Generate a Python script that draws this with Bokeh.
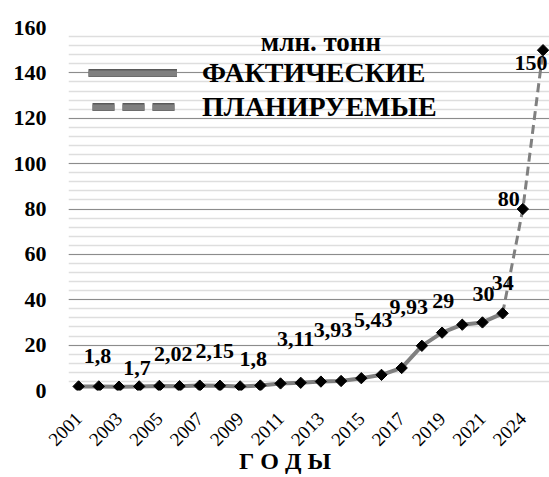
import math
from bokeh.plotting import figure
from bokeh.models import (ColumnDataSource, FixedTicker, Legend, LegendItem,
                          Label, Range1d)
from bokeh.core.properties import value
from bokeh.embed import file_html
from bokeh.resources import INLINE

# ---------------- data ----------------
years = ["2001", "2002", "2003", "2004", "2005", "2006", "2007", "2008",
         "2009", "2010", "2011", "2012", "2013", "2014", "2015", "2016",
         "2017", "2018", "2019", "2020", "2021", "2022", "2024", "2030"]
actual = [1.8, 1.8, 1.7, 1.8, 2.02, 1.9, 2.15, 2.1, 1.8, 2.2, 3.11, 3.4,
          3.93, 4.2, 5.43, 6.9, 9.93, 19.7, 25.5, 29, 30, 34]
planned_years = ["2022", "2024", "2030"]
planned = [34, 80, 150]
label_years = ["2001", "2003", "2005", "2007", "2009", "2011", "2013",
               "2015", "2017", "2020", "2021", "2022", "2024", "2030"]
label_values = [1.8, 1.7, 2.02, 2.15, 1.8, 3.11, 3.93, 5.43, 9.93, 29, 30,
                34, 80, 150]
tick_years = ["2001", "2003", "2005", "2007", "2009", "2011", "2013",
              "2015", "2017", "2019", "2021", "2024"]
y_major = [0, 20, 40, 60, 80, 100, 120, 140, 160]
y_minor = list(range(0, 161, 4))

# label placement (screen px offsets, style only)
label_dx = [19, 18, 14, 15, 13, 15, 12, 12, 7, -19, 1, 0, -14, -12]
label_dy = [-30, -19, -32, -35, -27, -44, -52, -58, -61, -24, -28, -30, -10, 13]

FONT = "Liberation Serif"
idx = {y: i for i, y in enumerate(years)}

act_src = ColumnDataSource(dict(x=[idx[y] for y in years[:len(actual)]], y=actual))
plan_src = ColumnDataSource(dict(x=[idx[y] for y in planned_years], y=planned))
mk_src = ColumnDataSource(dict(x=[idx[y] for y in years[:len(actual)]] + [idx[y] for y in planned_years[1:]],
                               y=actual + planned[1:]))
lab_src = ColumnDataSource(dict(
    x=[idx[y] for y in label_years], y=label_values,
    t=[str(v).replace(".", ",") for v in label_values],
    dx=label_dx, dy=label_dy))

p = figure(width=549, height=477, output_backend="svg", toolbar_location=None,
           x_range=Range1d(-0.5, 23.32), y_range=Range1d(0, 160),
           min_border_left=68, min_border_right=0, min_border_top=27,
           min_border_bottom=87)
p.outline_line_color = None
p.background_fill_color = "white"

# grid
p.xgrid.visible = False
p.yaxis.ticker = FixedTicker(ticks=y_major, minor_ticks=y_minor)
p.ygrid.grid_line_color = "#8c8c8c"
p.ygrid.grid_line_width = 1
p.ygrid.minor_grid_line_color = "#dedede"
p.ygrid.minor_grid_line_width = 1.5

# axes
p.yaxis.axis_line_color = None
p.yaxis.major_tick_line_color = None
p.yaxis.minor_tick_line_color = None
p.yaxis.major_label_standoff = 16
p.yaxis.major_label_text_font = FONT
p.yaxis.major_label_text_font_style = "bold"
p.yaxis.major_label_text_font_size = "22px"
p.yaxis.major_label_text_color = "black"

p.xaxis.ticker = FixedTicker(ticks=[idx[y] for y in tick_years])
p.xaxis.major_label_overrides = {idx[y]: y for y in tick_years}
p.xaxis.axis_line_color = None
p.xaxis.major_tick_line_color = None
p.xaxis.minor_tick_line_color = None
p.xaxis.major_label_orientation = math.pi / 4
p.xaxis.major_label_standoff = 19
p.xaxis.major_label_text_font = FONT
p.xaxis.major_label_text_font_size = "19px"
p.xaxis.major_label_text_color = "black"
p.xaxis.axis_label = "Г О Д Ы" + "\u00a0" * 8
p.xaxis.axis_label_standoff = -7
p.xaxis.axis_label_text_font = FONT
p.xaxis.axis_label_text_font_style = "bold"
p.xaxis.axis_label_text_font_size = "24px"
p.xaxis.axis_label_text_color = "black"

# series
r_act = p.line("x", "y", source=act_src, line_color="#808080", line_width=4)
r_plan = p.line("x", "y", source=plan_src, line_color="#808080", line_width=3,
                line_dash="9 5")
p.scatter("x", "y", source=mk_src, marker="square", angle=math.pi / 4,
          size=8, fill_color="black", line_color="black")

p.text("x", "y", text="t", source=lab_src, x_offset="dx", y_offset="dy",
       text_align="center", text_baseline="middle",
       text_font=value(FONT), text_font_style="bold", text_font_size="22px",
       text_color="black")

# legend key renderers (drawn off-range; only their legend swatches show)
off = dict(x=[-5, -4], y=[-10, -10])
s1 = p.line(x=off["x"], y=off["y"], line_color="#5a5a5a", line_width=9)
s2 = p.line(x=off["x"], y=off["y"], line_color="#808080", line_width=6)
d1 = p.line(x=off["x"], y=off["y"], line_color="#5a5a5a", line_width=9,
            line_dash="22 8", line_dash_offset=26)
d2 = p.line(x=off["x"], y=off["y"], line_color="#808080", line_width=6,
            line_dash="22 8", line_dash_offset=26)

legend = Legend(items=[LegendItem(label="ФАКТИЧЕСКИЕ", renderers=[s1, s2]),
                       LegendItem(label="ПЛАНИРУЕМЫЕ", renderers=[d1, d2])],
                location=(20, 266), padding=0, margin=0, spacing=0,
                glyph_width=89, glyph_height=8, label_height=34,
                label_standoff=25, border_line_color=None,
                background_fill_alpha=0)
legend.label_text_font = FONT
legend.label_text_font_style = "bold"
legend.label_text_font_size = "28px"
legend.label_text_color = "black"
p.add_layout(legend)

p.add_layout(Label(x=12.0, y=147, text="млн. тонн", text_font=FONT,
                   text_font_style="bold", text_font_size="27px",
                   text_align="center", text_color="black"))

open("out.html", "w").write(file_html(p, INLINE))
